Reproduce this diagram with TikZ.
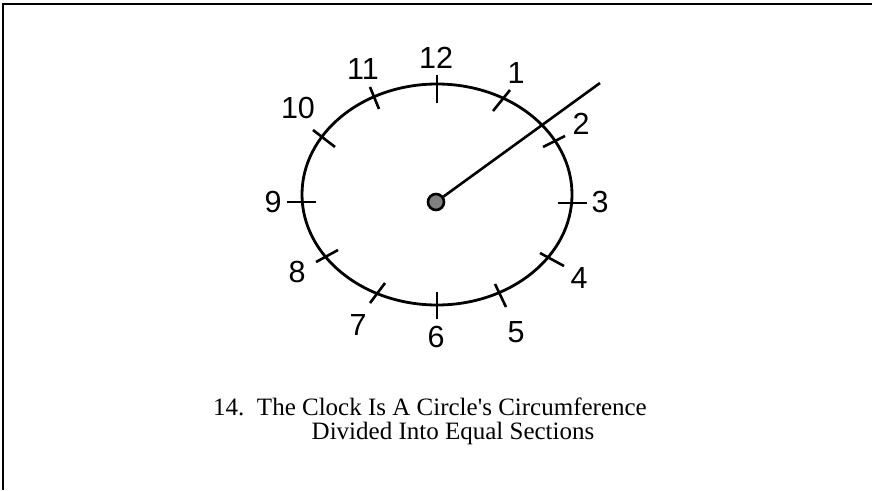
\documentclass[tikz,border=0pt]{standalone}
\usepackage{fontspec}
\setmainfont{Liberation Serif}
\setsansfont{Liberation Sans}
\usepackage{tikz}
\definecolor{hubGrey}{HTML}{808080}
\tikzset{
  faceline/.style={line width=2.8pt, draw=black},
  tickline/.style={line width=2.6pt, draw=black},
  frameline/.style={line width=2.8pt, draw=black},
  hourlabel/.style={font=\sffamily\fontsize{30.5}{30.5}\selectfont, inner sep=0pt},
  captiontext/.style={font=\fontsize{25}{27}\selectfont, inner sep=0pt},
  hubdot/.style={circle, draw=black, fill=hubGrey, line width=2.6pt, minimum size=16pt, inner sep=0pt},
}

\begin{document}
\begin{tikzpicture}[x=1pt,y=-1pt]
  \useasboundingbox (0,0) rectangle (872,490);
  \draw[frameline] (3,490) -- (3,4) -- (872,4);

  % clock face
  \draw[faceline] (437,194.5) ellipse [x radius=135, y radius=110.5];
  \foreach \ax/\ay/\bx/\by in {437/75/437/103, 493/111/510/90, 543/147/565/136,
      558/203/587/203, 540/253/564/266, 495/284/506/307, 437/292/437/319,
      370/303/385/283, 316/262/338/250, 287/202/316/202, 313/130/335/147,
      370/87/379/109}
    \draw[tickline] (\ax,\ay) -- (\bx,\by);

  \foreach \n/\lx/\ly in {12/436/58, 1/516/73, 2/581/124, 3/600/202, 4/579/278,
      5/516/332, 6/436/337, 7/358/325, 8/297/272, 9/273/202, 10/298/108, 11/363/69}
    \node[hourlabel] (h\n) at (\lx,\ly) {\n};

  % hand
  \node[hubdot] (hub) at (436,202) {};
  \coordinate (handtip) at (600,83);
  \draw[tickline] (hub) -- (handtip);

  \node[captiontext] (cap1) at (430,407) {14.\ \ The Clock Is A Circle\textquotesingle s Circumference};
  \node[captiontext] (cap2) at (453,433) {Divided Into Equal Sections};
\end{tikzpicture}
\end{document}
